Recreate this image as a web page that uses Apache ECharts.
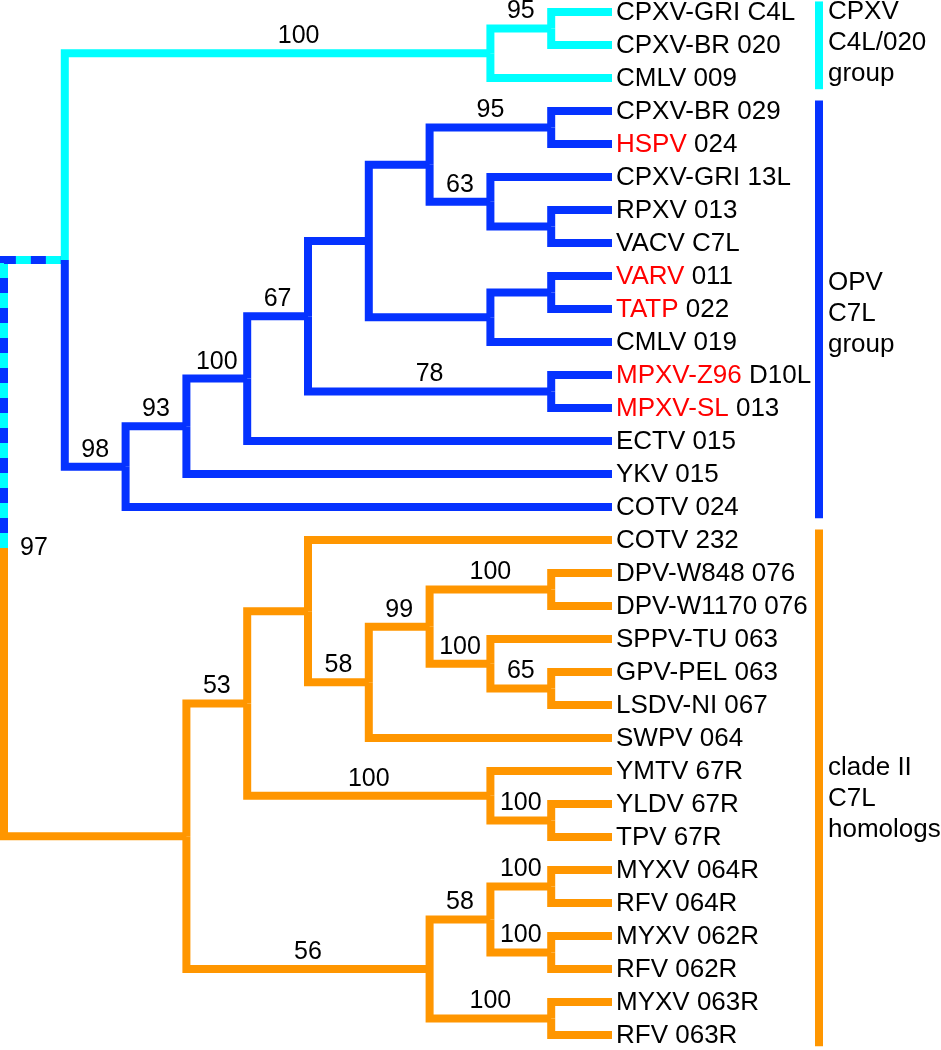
<!DOCTYPE html>
<html><head><meta charset="utf-8">
<script src="https://cdn.jsdelivr.net/npm/echarts@6/dist/echarts.min.js"></script>
<style>html,body{margin:0;padding:0;background:#fff}#c{width:941px;height:1050px}</style>
</head><body><div id="c"></div>
<script>
// ---- data ----
const leafLabels = [
  'CPXV-GRI C4L', 'CPXV-BR 020', 'CMLV 009',
  'CPXV-BR 029', 'HSPV 024', 'CPXV-GRI 13L', 'RPXV 013', 'VACV C7L',
  'VARV 011', 'TATP 022', 'CMLV 019', 'MPXV-Z96 D10L', 'MPXV-SL 013',
  'ECTV 015', 'YKV 015', 'COTV 024',
  'COTV 232', 'DPV-W848 076', 'DPV-W1170 076', 'SPPV-TU 063', 'GPV-PEL 063',
  'LSDV-NI 067', 'SWPV 064', 'YMTV 67R', 'YLDV 67R', 'TPV 67R',
  'MYXV 064R', 'RFV 064R', 'MYXV 062R', 'RFV 062R', 'MYXV 063R', 'RFV 063R'
];
const leafRedPart = [
  '', '', '',
  '', 'HSPV', '', '', '',
  'VARV', 'TATP', '', 'MPXV-Z96', 'MPXV-SL',
  '', '', '',
  '', '', '', '', '', '', '', '', '', '', '', '', '', '', '', ''
];
// [id, depth level, bootstrap support, clade, children (leaf index or node id)]
const nodes = [
  ['root', 0, '97', 'root', ['A', 'o3']],
  ['A', 1, '', 'dashed', ['c1', 'b2']],
  ['c1', 8, '100', 'cyan', ['c2', 2]],
  ['c2', 9, '95', 'cyan', [0, 1]],
  ['b2', 2, '98', 'blue', ['b3', 15]],
  ['b3', 3, '93', 'blue', ['b4', 14]],
  ['b4', 4, '100', 'blue', ['b5', 13]],
  ['b5', 5, '67', 'blue', ['b6', 'bMP']],
  ['b6', 6, '', 'blue', ['b7', 'bV8']],
  ['b7', 7, '', 'blue', ['bHS', 'b63']],
  ['bHS', 9, '95', 'blue', [3, 4]],
  ['b63', 8, '63', 'blue', [5, 'bRV']],
  ['bRV', 9, '', 'blue', [6, 7]],
  ['bV8', 8, '', 'blue', ['bVT', 10]],
  ['bVT', 9, '', 'blue', [8, 9]],
  ['bMP', 9, '78', 'blue', [11, 12]],
  ['o3', 3, '', 'orange', ['o53', 'o56']],
  ['o53', 4, '53', 'orange', ['o5', 'oYM']],
  ['o5', 5, '', 'orange', [16, 'o58']],
  ['o58', 6, '58', 'orange', ['o99', 22]],
  ['o99', 7, '99', 'orange', ['oDPV', 'oSP']],
  ['oDPV', 9, '100', 'orange', [17, 18]],
  ['oSP', 8, '100', 'orange', [19, 'oGL']],
  ['oGL', 9, '65', 'orange', [20, 21]],
  ['oYM', 8, '100', 'orange', [23, 'oYT']],
  ['oYT', 9, '100', 'orange', [24, 25]],
  ['o56', 7, '56', 'orange', ['oM58', 'oM63']],
  ['oM58', 8, '58', 'orange', ['oM64', 'oM62']],
  ['oM64', 9, '100', 'orange', [26, 27]],
  ['oM62', 9, '100', 'orange', [28, 29]],
  ['oM63', 9, '100', 'orange', [30, 31]]
];
const groupLabels = ['CPXV\nC4L/020\ngroup', 'OPV\nC7L\ngroup', 'clade II\nC7L\nhomologs'];
const groupRanges = [[0, 2], [3, 15], [16, 31]];
const groupClades = ['cyan', 'blue', 'orange'];

// ---- style / layout ----
const COLORS = { cyan: '#00FFFF', blue: '#0532FF', orange: '#FF9600' };
const FONT = '"Liberation Sans", Arial, Helvetica, sans-serif';
const LEAF_LEVEL = 10;
const LW = 8;
const groupTextShift = [-0.06, 0.15, 0.35];
const supportLabelNudge = { c1: 21 };

// ---- tree layout ----
const byId = {};
nodes.forEach(n => { byId[n[0]] = n; });
const yCache = {};
function yOf(c) {
  if (typeof c === 'number') return c;
  if (yCache[c] !== undefined) return yCache[c];
  const k = byId[c][4];
  return (yCache[c] = (yOf(k[0]) + yOf(k[k.length - 1])) / 2);
}
function levelOf(c) { return typeof c === 'number' ? LEAF_LEVEL : byId[c][1]; }
function leafClade(i) {
  for (let g = 0; g < groupRanges.length; g++) if (i >= groupRanges[g][0] && i <= groupRanges[g][1]) return groupClades[g];
  return 'blue';
}
function cladeOf(c) { return typeof c === 'number' ? leafClade(c) : byId[c][3]; }

const branches = [];
nodes.forEach(n => n[4].forEach(ch => {
  branches.push({ id: typeof ch === 'number' ? null : ch, x0: n[1], y0: yOf(n[0]), x1: levelOf(ch), y1: yOf(ch), clade: cladeOf(ch),
    support: typeof ch === 'number' ? '' : byId[ch][2] });
}));
const supportBranches = branches.filter(b => b.support !== '');
const rootNode = nodes[0];

const chart = echarts.init(document.getElementById('c'), null, { renderer: 'canvas' });
chart.setOption({
  animation: false,
  backgroundColor: '#ffffff',
  grid: { left: 4, top: 12, width: 608, height: 1023 },
  xAxis: { type: 'value', min: 0, max: 10, show: false },
  yAxis: { type: 'value', min: 0, max: 31, inverse: true, show: false },
  series: [
    {
      type: 'custom', clip: false, silent: true,
      data: branches.map(b => [b.x0, b.y0, b.x1, b.y1]),
      renderItem: function (params, api) {
        const b = branches[params.dataIndex];
        const p0 = api.coord([b.x0, b.y0]);
        const p1 = api.coord([b.x0, b.y1]);
        const p2 = api.coord([b.x1, b.y1]);
        const pts = [p0, p1, p2];
        if (b.clade === 'dashed') {
          return { type: 'group', children: [
            { type: 'polyline', shape: { points: pts }, style: { stroke: COLORS.cyan, lineWidth: LW, fill: null, lineJoin: 'miter', lineCap: 'butt' } },
            { type: 'polyline', shape: { points: pts }, style: { stroke: COLORS.blue, lineWidth: LW, fill: null, lineJoin: 'miter', lineCap: 'butt', lineDash: [15, 15], lineDashOffset: 15 } }
          ] };
        }
        return { type: 'polyline', shape: { points: pts },
          style: { stroke: COLORS[b.clade], lineWidth: LW, fill: null, lineJoin: 'miter', lineCap: 'butt' } };
      }
    },
    {
      type: 'custom', clip: false, silent: true,
      data: supportBranches.map(b => [b.x1, b.y1]),
      renderItem: function (params, api) {
        const b = supportBranches[params.dataIndex];
        const a = api.coord([b.x0, b.y1]);
        const c = api.coord([b.x1, b.y1]);
        const nudge = supportLabelNudge[b.id] || 0;
        return { type: 'text', style: { text: b.support, x: (a[0] + c[0]) / 2 + nudge, y: c[1] - 17,
          fill: '#000', fontSize: 25, fontFamily: FONT, align: 'center', verticalAlign: 'middle' } };
      }
    },
    {
      type: 'custom', clip: false, silent: true,
      data: [[rootNode[1], yOf('root')]],
      renderItem: function (params, api) {
        const p = api.coord([rootNode[1], yOf('root')]);
        return { type: 'text', style: { text: rootNode[2], x: p[0] + 16, y: p[1],
          fill: '#000', fontSize: 25, fontFamily: FONT, align: 'left', verticalAlign: 'middle' } };
      }
    },
    {
      type: 'custom', clip: false, silent: true,
      data: leafLabels.map((l, i) => [LEAF_LEVEL, i]),
      renderItem: function (params, api) {
        const i = params.dataIndex;
        const p = api.coord([LEAF_LEVEL, i]);
        const red = leafRedPart[i];
        const full = leafLabels[i];
        const txt = red ? '{r|' + red + '}{k|' + full.slice(red.length) + '}' : '{k|' + full + '}';
        return { type: 'text', style: { text: txt, x: p[0] + 4, y: p[1] + 1,
          fill: '#000', fontSize: 26, fontFamily: FONT, align: 'left', verticalAlign: 'middle',
          rich: { r: { fill: '#FF0000', fontSize: 26, fontFamily: FONT }, k: { fill: '#000', fontSize: 26, fontFamily: FONT } } } };
      }
    },
    {
      type: 'custom', clip: false, silent: true,
      data: groupRanges.map(r => [LEAF_LEVEL, r[0], r[1]]),
      renderItem: function (params, api) {
        const g = params.dataIndex;
        const r = groupRanges[g];
        const top = api.coord([LEAF_LEVEL, r[0] - 0.32]);
        const bot = api.coord([LEAF_LEVEL, r[1] + 0.34]);
        const mid = api.coord([LEAF_LEVEL, (r[0] + r[1]) / 2 + groupTextShift[g]]);
        const bx = top[0] + 207;
        return { type: 'group', children: [
          { type: 'line', shape: { x1: bx, y1: top[1], x2: bx, y2: bot[1] },
            style: { stroke: COLORS[groupClades[g]], lineWidth: LW, lineCap: 'butt' } },
          { type: 'text', style: { text: groupLabels[g], x: bx + 9, y: mid[1], fill: '#000',
            fontSize: 26, fontFamily: FONT, lineHeight: 31, align: 'left', verticalAlign: 'middle' } }
        ] };
      }
    }
  ]
});
</script>
</body></html>
